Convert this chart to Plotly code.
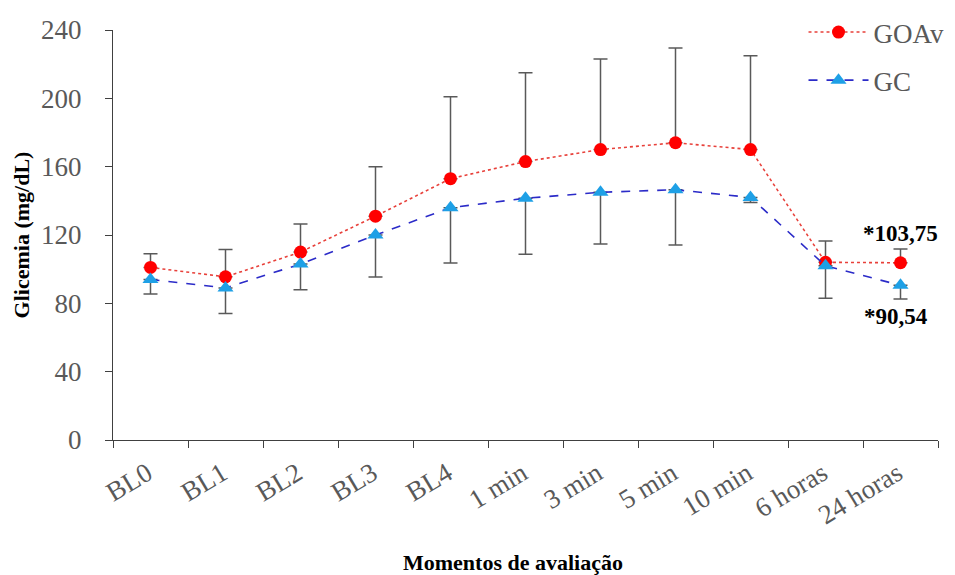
import plotly.graph_objects as go

categories = ["BL0", "BL1", "BL2", "BL3", "BL4", "1 min", "3 min", "5 min", "10 min", "6 horas", "24 horas"]
goav = [101, 95.5, 110, 131, 153, 163, 170, 174, 170, 104, 103.75]
goav_err_plus = [8, 16, 16.5, 29, 48, 52, 53, 55.5, 55, 12.5, 8]
gc = [94, 89, 103, 120, 136, 141.5, 145, 146.5, 142, 102, 90.54]
gc_err_minus = [8.5, 15, 15, 24.6, 32.4, 32.7, 30.3, 32.3, 3, 19, 8]
y_ticks = [0, 40, 80, 120, 160, 200, 240]

serif = "Liberation Serif, Times New Roman, serif"
gray = "#595959"

fig = go.Figure()
fig.add_trace(go.Scatter(
    x=categories, y=goav, name="GOAv", mode="lines+markers", legendgroup="a",
    line=dict(color="#e8403a", width=1.6, dash="dot"),
    marker=dict(symbol="circle", size=13, color="#ff0000"),
    error_y=dict(type="data", array=goav_err_plus, arrayminus=[0]*len(goav), symmetric=False,
                 color=gray, thickness=1.5, width=7),
))
fig.add_trace(go.Scatter(
    x=categories, y=gc, name="GC", mode="lines+markers", legendgroup="b",
    line=dict(color="#2b2bc8", width=1.6, dash="dash"),
    marker=dict(symbol="triangle-up", size=14, color="#1ea0e6"),
    error_y=dict(type="data", array=[0]*len(gc), arrayminus=gc_err_minus, symmetric=False,
                 color=gray, thickness=1.5, width=7),
))

fig.add_annotation(x=categories[-1], y=goav[-1], text="<b>*103,75</b>", showarrow=False,
                   yshift=29, xshift=0, font=dict(family=serif, size=23, color="black"))
fig.add_annotation(x=categories[-1], y=gc[-1], text="<b>*90,54</b>", showarrow=False,
                   yshift=-31, xshift=-5, font=dict(family=serif, size=23, color="black"))
fig.add_annotation(xref="paper", yref="paper", x=0.485, y=0, yshift=-137, xanchor="center",
                   text="<b>Momentos de avaliação</b>", showarrow=False,
                   font=dict(family=serif, size=22, color="black"))

fig.update_layout(
    width=955, height=575,
    margin=dict(l=105, r=25, t=22, b=143, autoexpand=False),
    paper_bgcolor="white", plot_bgcolor="white",
    font=dict(family=serif, color=gray),
    legend=dict(xref="container", yref="container", x=0.833, y=1.003, xanchor="left", yanchor="top",
                traceorder="grouped", tracegroupgap=10, itemwidth=60,
                font=dict(family=serif, size=27, color=gray),
                bgcolor="rgba(0,0,0,0)"),
    showlegend=True,
)
fig.update_xaxes(
    type="category", range=[-0.5, 10.5], tickangle=-31, automargin=False,
    ticklabelstandoff=6, ticklabelshift=-3,
    tickfont=dict(family=serif, size=27, color=gray),
    showline=True, linecolor="#404040", linewidth=1.3,
    ticks="outside", tickson="boundaries", ticklen=7, tickcolor="#404040",
    showgrid=False,
)
fig.update_yaxes(
    range=[0, 240], tickvals=y_ticks, automargin=False, ticklabelstandoff=18,
    tickfont=dict(family=serif, size=27, color=gray),
    showline=True, linecolor="#404040", linewidth=1.3,
    ticks="outside", ticklen=7, tickcolor="#404040",
    showgrid=False, zeroline=False,
    title=dict(text="<b>Glicemia (mg/dL)</b>", font=dict(family=serif, size=22, color="black"), standoff=5),
)

fig.write_html("out.html")
